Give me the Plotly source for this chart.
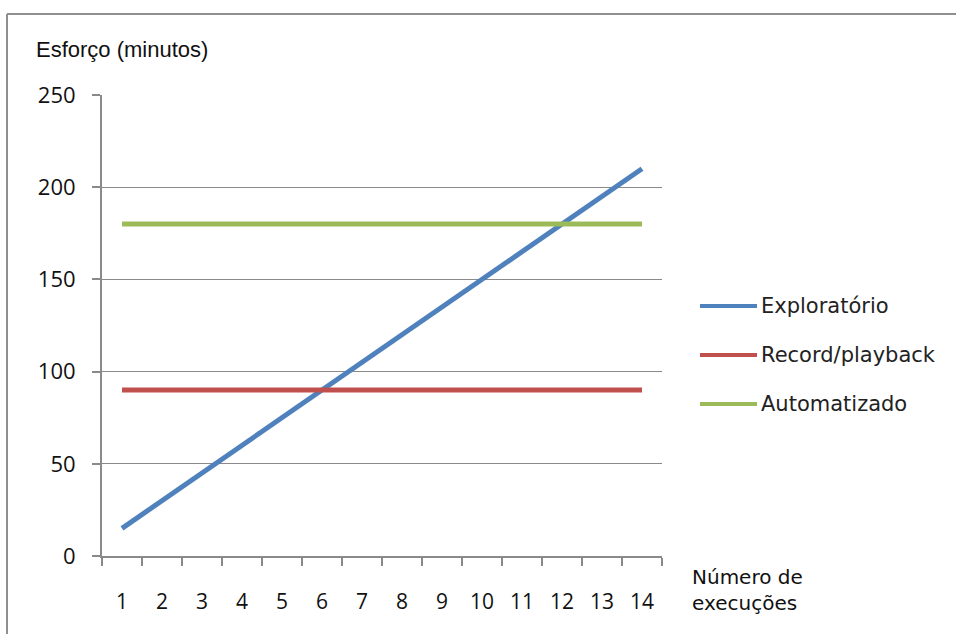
import plotly.graph_objects as go

# Number of executions (category axis) and effort in minutes per approach
execucoes = [str(i) for i in range(1, 15)]
exploratorio = [15, 30, 45, 60, 75, 90, 105, 120, 135, 150, 165, 180, 195, 210]
record_playback = [90] * 14
automatizado = [180] * 14

series_names = ["Exploratório", "Record/playback", "Automatizado"]
series_values = [exploratorio, record_playback, automatizado]
series_colors = ["#4F81BD", "#C0504D", "#9BBB59"]

y_ticks = [0, 50, 100, 150, 200, 250]

W, H = 956, 634
L, R, T, B = 102, 294, 95, 78
PW, PH = W - L - R, H - T - B


def px(x):
    return (x - L) / PW


def py(y):
    return (H - B - y) / PH


fig = go.Figure()
for name, vals, col in zip(series_names, series_values, series_colors):
    fig.add_trace(go.Scatter(
        x=execucoes, y=vals, name=name, mode="lines",
        line=dict(color=col, width=5), showlegend=False,
    ))

# Legend drawn as line samples + labels
leg_y = [306, 355, 404]
for name, col, yy in zip(series_names, series_colors, leg_y):
    fig.add_shape(type="line", xref="paper", yref="paper",
                  x0=px(700), x1=px(757), y0=py(yy), y1=py(yy),
                  line=dict(color=col, width=4))
    fig.add_annotation(text=name, xref="paper", yref="paper",
                       x=px(759), y=py(yy), xanchor="left", yanchor="middle",
                       showarrow=False,
                       font=dict(family="DejaVu Sans", size=21, color="#222"))

# Chart-area frame (top and left edges)
fig.add_shape(type="line", xref="paper", yref="paper",
              x0=px(7), x1=px(960), y0=py(14), y1=py(14),
              line=dict(color="#8f8f8f", width=2))
fig.add_shape(type="line", xref="paper", yref="paper",
              x0=px(7), x1=px(7), y0=py(14), y1=py(640),
              line=dict(color="#8f8f8f", width=2))

fig.add_annotation(text="Esforço (minutos)", xref="paper", yref="paper",
                   x=px(34), y=py(50), xanchor="left", yanchor="middle",
                   showarrow=False,
                   font=dict(family="Liberation Sans", size=22, color="#111"))
fig.add_annotation(text="Número de<br>execuções", xref="paper", yref="paper",
                   x=px(690), y=py(590), xanchor="left", yanchor="middle",
                   align="left", showarrow=False,
                   font=dict(family="DejaVu Sans", size=20, color="#111"))

fig.update_layout(
    width=W, height=H,
    margin=dict(l=L, r=R, t=T, b=B),
    paper_bgcolor="white", plot_bgcolor="white",
    showlegend=False,
    xaxis=dict(
        type="category", tickmode="array", tickvals=execucoes,
        range=[-0.5, len(execucoes) - 0.5],
        ticks="outside", tickson="boundaries", ticklen=8,
        tickcolor="#8a8a8a", tickwidth=1.5,
        showline=True, linecolor="#8a8a8a", linewidth=2,
        showgrid=False, zeroline=False,
        ticklabelstandoff=26,
        tickfont=dict(family="Open Sans", size=21, color="#111"),
    ),
    yaxis=dict(
        range=[0, 250], tickvals=y_ticks,
        ticks="outside", ticklen=8, tickcolor="#8a8a8a", tickwidth=1.5,
        showline=True, linecolor="#8a8a8a", linewidth=2,
        showgrid=True, gridcolor="#8a8a8a", gridwidth=1.2,
        zeroline=False, ticklabelstandoff=12,
        tickfont=dict(family="Open Sans", size=22, color="#111"),
    ),
)

fig.write_html("out.html")
